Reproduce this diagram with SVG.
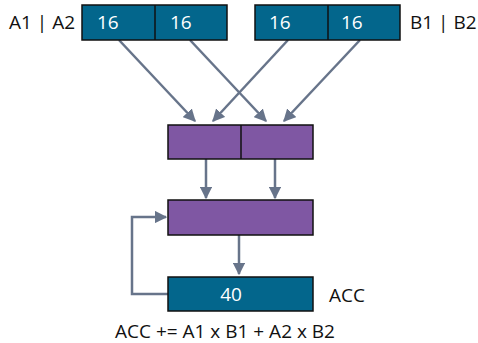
<svg xmlns="http://www.w3.org/2000/svg" width="478" height="343" viewBox="0 0 478 343">
<defs>
<marker id="ah" viewBox="0 0 10 10" refX="9" refY="5" markerWidth="5" markerHeight="5" orient="auto" markerUnits="strokeWidth">
<path d="M0,0 L10,5 L0,10 z" fill="#67748A"/>
</marker>
</defs>
<style>
.blue{fill:#03668C;stroke:#111;stroke-width:1.5}
.purple{fill:#7F57A3;stroke:#111;stroke-width:1.5}
.div{stroke:#111;stroke-width:1.5}
.w{fill:#fff;font-family:"Open Sans",sans-serif;font-size:19px}
.t{fill:#111;font-family:"Open Sans",sans-serif;font-size:19px}
.c{fill:none;stroke:#67748A;stroke-width:2.5;marker-end:url(#ah)}
</style>
<rect width="478" height="343" fill="#fff"/>
<g id="connectors">
<line class="c" x1="119" y1="40" x2="195" y2="121"/>
<line class="c" x1="288" y1="40" x2="213" y2="121"/>
<line class="c" x1="190" y1="40" x2="266" y2="121"/>
<line class="c" x1="360" y1="40" x2="284" y2="121"/>
<line class="c" x1="206" y1="159" x2="206" y2="198"/>
<line class="c" x1="275" y1="159" x2="275" y2="198"/>
<line class="c" x1="239" y1="235" x2="239" y2="274"/>
<polyline class="c" points="168,294 132,294 132,217 166,217"/>
</g>
<g id="regA">
<rect class="blue" x="82" y="5" width="145" height="35"/>
<line class="div" x1="155" y1="5" x2="155" y2="40"/>
<text class="w" x="97" y="29">16</text>
<text class="w" x="170" y="29">16</text>
<text class="t" x="9" y="29">A1 | A2</text>
</g>
<g id="regB">
<rect class="blue" x="255" y="5" width="145" height="35"/>
<line class="div" x1="328" y1="5" x2="328" y2="40"/>
<text class="w" x="269" y="29">16</text>
<text class="w" x="341" y="29">16</text>
<text class="t" x="410" y="29">B1 | B2</text>
</g>
<g id="mul">
<rect class="purple" x="168" y="125" width="145" height="34"/>
<line class="div" x1="241" y1="125" x2="241" y2="159"/>
</g>
<g id="add">
<rect class="purple" x="168" y="200" width="145" height="35"/>
</g>
<g id="acc">
<rect class="blue" x="168" y="277" width="145" height="34"/>
<text class="w" x="231" y="301" text-anchor="middle">40</text>
<text class="t" x="329" y="302">ACC</text>
</g>
<text class="t" x="115" y="338">ACC += A1 x B1 + A2 x B2</text>
</svg>
